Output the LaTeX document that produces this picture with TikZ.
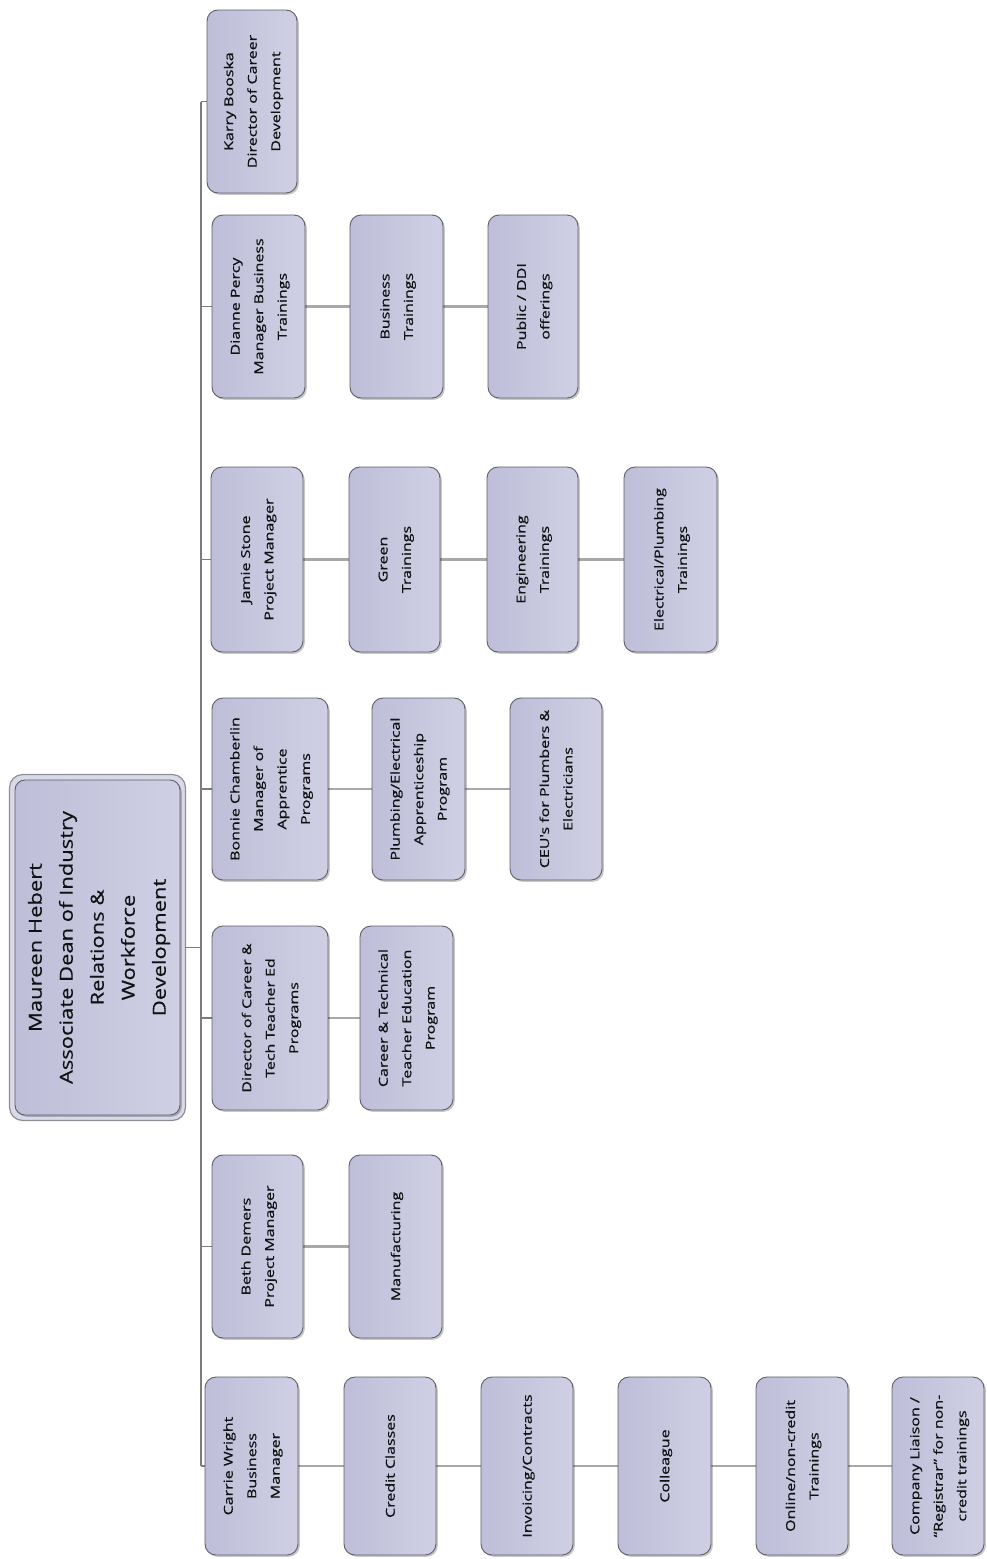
\documentclass[tikz,border=0pt]{standalone}
\usepackage{fontspec}
\setmainfont{Open Sans}
\newfontfamily\bxfont[FakeStretch=1.3,FakeBold=0.7]{Open Sans}
\newfontfamily\rtfont[FakeStretch=1.22,FakeBold=0.4]{Open Sans}
\usetikzlibrary{shadows,backgrounds}
\definecolor{boxfill}{HTML}{BEBED9}
\definecolor{boxfill2}{HTML}{CFCFE4}
\definecolor{boxline}{HTML}{5E5E68}
\definecolor{connline}{HTML}{A8A8A8}
\definecolor{trunkline}{HTML}{7C7C7C}
\definecolor{txt}{HTML}{111111}
\tikzset{
  orgbox/.style={rectangle, rounded corners=11pt, draw=boxline, line width=0.9pt,
    left color=boxfill, right color=boxfill2, inner sep=0pt, text=txt,
    font=\bxfont\fontsize{12.3}{23.5}\selectfont,
    drop shadow={shadow xshift=1.8pt, shadow yshift=-1.8pt, opacity=0.22, fill=black}},
  rootbox/.style={orgbox, rounded corners=10pt, font=\rtfont\fontsize{18}{31}\selectfont,
    drop shadow={shadow xshift=0pt, shadow yshift=0pt, opacity=0}},
  conn/.style={draw=connline, line width=2.4pt},
  trunk/.style={draw=trunkline, line width=1.8pt}
}
\newcommand\bx[6]{\node[orgbox, minimum width={(#4)-(#2)}, minimum height={(#5)-(#3)}] (#1) at ({((#2)+(#4))/2},{((#3)+(#5))/2}) {\rotatebox{90}{\begin{tabular}{@{}c@{}}#6\end{tabular}}};}
\begin{document}
\begin{tikzpicture}[x=1pt,y=-1pt]
\useasboundingbox (0,0) rectangle (987,1559);
% root
\node[rootbox, minimum width=165pt, minimum height=335pt] (root) at (97.5,947.5)
  {\rotatebox{90}{\begin{tabular}{@{}c@{}}Maureen Hebert\\Associate Dean of Industry\\Relations \&\\Workforce\\Development\end{tabular}}};
% column 1
\bx{karry}{207}{10}{297}{193}{Karry Booska\\Director of Career\\Development}
\bx{dianne}{212}{215}{305}{398}{Dianne Percy\\Manager Business\\Trainings}
\bx{bustr}{350}{215}{443}{398}{Business\\Trainings}
\bx{ddi}{488}{215}{578}{398}{Public / DDI\\offerings}
\bx{jamie}{211}{467}{303}{652}{Jamie Stone\\Project Manager}
\bx{green}{349}{467}{440}{652}{Green\\Trainings}
\bx{eng}{487}{467}{578}{652}{Engineering\\Trainings}
\bx{elec}{624}{467}{717}{652}{Electrical/Plumbing\\Trainings}
\bx{bonnie}{212}{698}{328}{880}{Bonnie Chamberlin\\Manager of\\Apprentice\\Programs}
\bx{plumb}{372}{698}{465}{880}{Plumbing/Electrical\\Apprenticeship\\Program}
\bx{ceu}{510}{698}{602}{880}{CEU's for Plumbers \&\\Electricians}
\bx{dir}{212}{926}{328}{1110}{Director of Career \&\\Tech Teacher Ed\\Programs}
\bx{cte}{360}{926}{453}{1110}{Career \& Technical\\Teacher Education\\Program}
\bx{beth}{212}{1155}{303}{1338}{Beth Demers\\Project Manager}
\bx{manu}{349}{1155}{442}{1338}{Manufacturing}
\bx{carrie}{205}{1377}{298}{1555}{Carrie Wright\\Business\\Manager}
\bx{credit}{344}{1377}{436}{1555}{Credit Classes}
\bx{inv}{481}{1377}{573}{1555}{Invoicing/Contracts}
\bx{coll}{618}{1377}{711}{1555}{Colleague}
\bx{online}{756}{1377}{848}{1555}{Online/non-credit\\Trainings}
\bx{comp}{892}{1377}{984}{1555}{Company Liaison /\\“Registrar” for non-\\credit trainings}
\coordinate (trunkx) at (201,0);
\begin{scope}[on background layer]
  \draw[draw=boxline!70, fill=boxfill2!80!white, line width=1.2pt, rounded corners=13pt]
    ([xshift=-5pt,yshift=5pt]root.north west) rectangle ([xshift=5pt,yshift=-5pt]root.south east);
  \draw[trunk] ([xshift=5pt]root.east) -- (root.east -| trunkx);
  \draw[trunk] (karry.west -| trunkx) -- (carrie.west -| trunkx);
  \foreach \n in {karry,dianne,jamie,bonnie,dir,beth,carrie}
    \draw[trunk] (\n.west -| trunkx) -- (\n.west);
  \draw[conn] (dianne.east) -- (bustr.west) (bustr.east) -- (ddi.west);
  \draw[conn] (jamie.east) -- (green.west) (green.east) -- (eng.west) (eng.east) -- (elec.west);
  \draw[conn] (bonnie.east) -- (plumb.west) (plumb.east) -- (ceu.west);
  \draw[conn] (dir.east) -- (cte.west);
  \draw[conn] (beth.east) -- (manu.west);
  \draw[conn] (carrie.east) -- (credit.west) (credit.east) -- (inv.west) (inv.east) -- (coll.west) (coll.east) -- (online.west) (online.east) -- (comp.west);
\end{scope}
\end{tikzpicture}
\end{document}
